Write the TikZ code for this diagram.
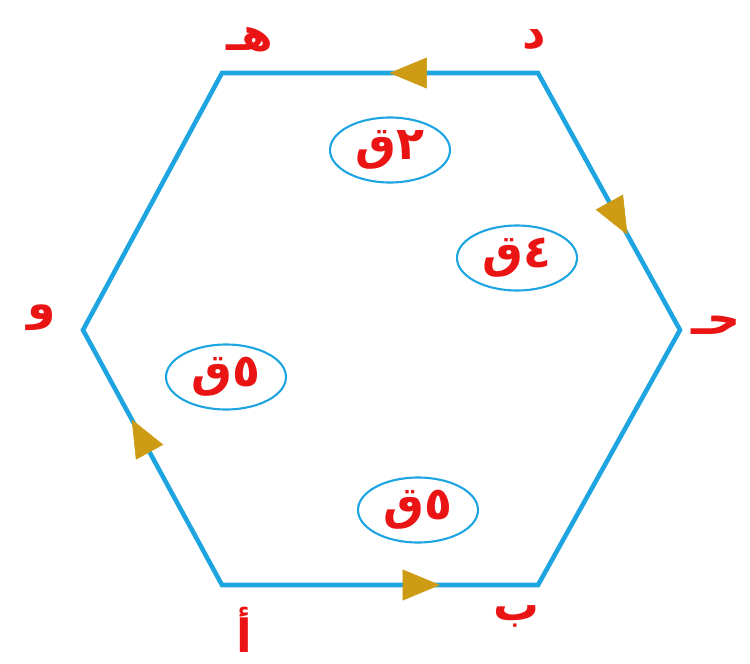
\documentclass[tikz,border=0pt]{standalone}
\usepackage{fontspec}
\newfontfamily\arabicfont[Script=Arabic]{DejaVu Sans}
\TeXXeTstate=1
\usetikzlibrary{arrows.meta,positioning,shapes.geometric,decorations.markings}
\definecolor{sky}{RGB}{30,165,225}
\definecolor{crimson}{RGB}{235,20,20}
\definecolor{gold}{RGB}{205,155,20}
\tikzset{
  side/.style={draw=sky,line width=2.6pt,line join=miter},
  midarrow/.style={postaction={decorate,decoration={markings,
    mark=at position #1 with {\arrow[gold]{Triangle[length=7.5mm,width=6.2mm]}}}}},
  vlabel/.style={text=crimson,font=\arabicfont\fontsize{26}{26}\selectfont\bfseries,inner sep=1pt},
  force/.style={ellipse,draw=sky,line width=1.2pt,minimum width=24mm,minimum height=13mm,
    text=crimson,font=\arabicfont\fontsize{26}{26}\selectfont\bfseries,inner sep=0pt},
}
\begin{document}
\begin{tikzpicture}[x=0.02cm,y=-0.02cm]
  \useasboundingbox (0,0) rectangle (750,663);
  % corners
  \coordinate (A) at (222,585);
  \coordinate (B) at (538,585);
  \coordinate (C) at (680,330);
  \coordinate (D) at (538,73);
  \coordinate (E) at (222,73);
  \coordinate (F) at (83,330);
  \draw[side] (A) -- (B) -- (C) -- (D) -- (E) -- (F) -- cycle;
  \path[midarrow=0.69] (A) -- (B);
  \path[midarrow=0.63] (D) -- (C);
  \path[midarrow=0.47] (D) -- (E);
  \path[midarrow=0.65] (A) -- (F);
  % letters
  \node[vlabel] (la) at (244,630) {\beginR أ\endR};
  \node[vlabel] (lb) at (516,616) {\beginR ب\endR};
  \node[vlabel] (lc) at (716,325) {\beginR حـ\endR};
  \node[vlabel] (ld) at (534,40) {\beginR د\endR};
  \node[vlabel] (le) at (250,40) {\beginR هـ\endR};
  \node[vlabel] (lf) at (42,318) {\beginR و\endR};
  % forces
  \node[force] (f1) at (390,150) {\beginR ٢ق\endR};
  \node[force] (f2) at (517,258) {\beginR ٤ق\endR};
  \node[force] (f3) at (226,377) {\beginR ٥ق\endR};
  \node[force] (f4) at (418,510) {\beginR ٥ق\endR};
\end{tikzpicture}
\end{document}
